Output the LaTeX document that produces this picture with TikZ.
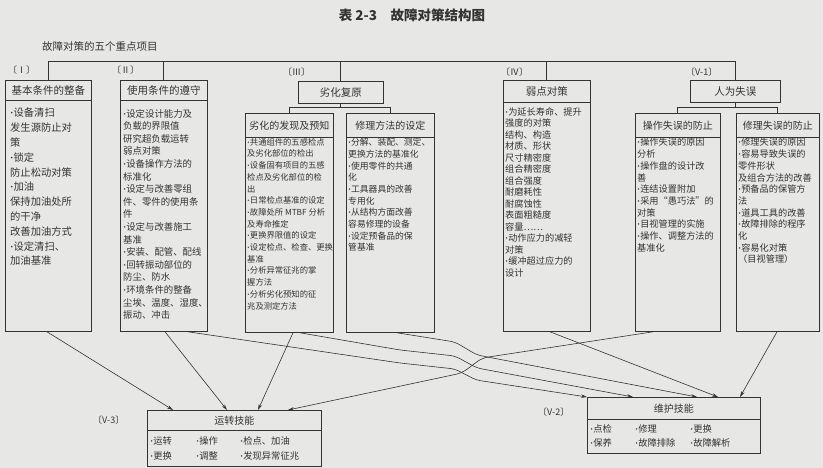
\documentclass[tikz,border=0pt]{standalone}
\usepackage{fontspec}
\setmainfont{Noto Sans CJK SC}
\newfontfamily\latinf{Liberation Serif}
\usetikzlibrary{arrows.meta}
\definecolor{paper}{HTML}{E7E7E5}
\definecolor{ink}{HTML}{333333}
\newcommand{\fs}[2]{\fontsize{#1}{#2}\selectfont}
\newcommand{\dt}{{\latinf\bfseries ·}}
\begin{document}
\begin{tikzpicture}[x=1pt,y=-1pt,
  frame/.style={draw=ink, line width=0.8pt, anchor=north west, inner sep=0pt, text=ink},
  body/.style={anchor=north west, align=left, inner sep=0pt, text=ink},
  lbl/.style={anchor=west, inner sep=0pt, text=ink, font=\fs{9}{10}},
  conn/.style={draw=ink, line width=0.6pt, -{Stealth[length=6pt,width=3.5pt]}},
  tree/.style={draw=ink, line width=0.9pt},
]
\fill[paper] (0,0) rectangle (823,468);
\useasboundingbox (0,0) rectangle (823,468);

% titles
\node[text=ink, font=\bfseries\fs{13.5}{15}] (title) at (412,15) {表 2-3\quad 故障对策结构图};
\node[anchor=west, inner sep=0pt, text=ink, font=\fs{10.5}{12}] (subt) at (42,46) {故障对策的五个重点项目};

% level-1 headers
\node[frame, minimum width=86pt, minimum height=20pt, font=\fs{10.5}{12}] (h1) at (5,80) {基本条件的整备};
\node[frame, minimum width=87pt, minimum height=20pt, font=\fs{10.5}{12}] (h2) at (120,80) {使用条件的遵守};
\node[frame, minimum width=85pt, minimum height=22pt, font=\fs{10.5}{12}] (h3) at (298,81) {劣化复原};
\node[frame, minimum width=87pt, minimum height=22pt, font=\fs{10.5}{12}] (h4) at (503,80) {弱点对策};
\node[frame, minimum width=90pt, minimum height=22pt, font=\fs{10.5}{12}] (h5) at (690,80) {人为失误};

% level-1 bodies
\node[frame, minimum width=86pt, minimum height=231pt] (b1) at (5,100) {};
\node[frame, minimum width=87pt, minimum height=231pt] (b2) at (120,100) {};
\node[frame, minimum width=87pt, minimum height=229pt] (b4) at (503,102) {};

% level-2 headers and bodies
\node[frame, minimum width=88pt, minimum height=24pt, font=\fs{10}{12}] (h3a) at (245,113) {劣化的发现及预知};
\node[frame, minimum width=88pt, minimum height=24pt, font=\fs{10}{12}] (h3b) at (346,113) {修理方法的设定};
\node[frame, minimum width=88pt, minimum height=195pt] (b3a) at (245,137) {};
\node[frame, minimum width=88pt, minimum height=195pt] (b3b) at (346,137) {};
\node[frame, minimum width=85pt, minimum height=24pt, font=\fs{10}{12}] (h5a) at (635,113) {操作失误的防止};
\node[frame, minimum width=83pt, minimum height=24pt, font=\fs{10}{12}] (h5b) at (736,113) {修理失误的防止};
\node[frame, minimum width=85pt, minimum height=194pt] (b5a) at (635,137) {};
\node[frame, minimum width=83pt, minimum height=194pt] (b5b) at (736,137) {};

% bottom boxes
\node[frame, minimum width=174pt, minimum height=20pt, font=\fs{10}{12}] (h8) at (147,410) {运转技能};
\node[frame, minimum width=174pt, minimum height=36pt] (b8) at (147,430) {};
\node[frame, minimum width=173pt, minimum height=22pt, font=\fs{10}{12}] (h7) at (587,397) {维护技能};
\node[frame, minimum width=173pt, minimum height=34pt] (b7) at (587,419) {};

% labels
\node[lbl] (l1) at (8,70) {〔Ⅰ〕};
\node[lbl] (l2) at (112,70) {〔Ⅱ〕};
\node[lbl] (l3) at (283,72) {〔Ⅲ〕};
\node[lbl] (l4) at (501,72) {〔Ⅳ〕};
\node[lbl] (l5) at (686,72) {〔V-1〕};
\node[lbl] (l8) at (93,420) {〔V-3〕};
\node[lbl] (l7) at (538,412) {〔V-2〕};

% body texts
\node[body, font=\fs{10.3}{14.8}] (t1) at (10,108) {\dt 设备清扫\\发生源防止对\\策\\\dt 锁定\\防止松动对策\\\dt 加油\\保持加油处所\\的干净\\改善加油方式\\\dt 设定清扫、\\加油基准};
\node[body, font=\fs{9.4}{12.6}] (t2) at (123,109) {\dt 设定设计能力及\\负载的界限值\\研究超负载运转\\弱点对策\\\dt 设备操作方法的\\标准化\\\dt 设定与改善零组\\件、零件的使用条\\件\\\dt 设定与改善施工\\基准\\\dt 安装、配管、配线\\\dt 回转振动部位的\\防尘、防水\\\dt 环境条件的整备\\尘埃、温度、湿度、\\振动、冲击};
\node[body, font=\fs{8.3}{11.7}] (t3a) at (247,138) {\dt 共通组件的五感检点\\及劣化部位的检出\\\dt 设备固有项目的五感\\检点及劣化部位的检\\出\\\dt 日常检点基准的设定\\\dt 故障处所 MTBF 分析\\及寿命推定\\\dt 更换界限值的设定\\\dt 设定检点、检查、更换\\基准\\\dt 分析异常征兆的掌\\握方法\\\dt 分析劣化预知的征\\兆及测定方法};
\node[body, font=\fs{8.8}{11.7}] (t3b) at (348,138) {\dt 分解、装配、测定、\\更换方法的基准化\\\dt 使用零件的共通\\化\\\dt 工具器具的改善\\专用化\\\dt 从结构方面改善\\容易修理的设备\\\dt 设定预备品的保\\管基准};
\node[body, font=\fs{9.2}{11.5}] (t4) at (505,107) {\dt 为延长寿命、提升\\强度的对策\\结构、构造\\材质、形状\\尺寸精密度\\组合精密度\\组合强度\\耐磨耗性\\耐腐蚀性\\表面粗糙度\\容量……\\\dt 动作应力的减轻\\对策\\\dt 缓冲超过应力的\\设计};
\node[body, font=\fs{9.2}{11.7}] (t5a) at (637,138) {\dt 操作失误的原因\\分析\\\dt 操作盘的设计改\\善\\\dt 连结设置附加\\\dt 采用“愚巧法”的\\对策\\\dt 目视管理的实施\\\dt 操作、调整方法的\\基准化};
\node[body, font=\fs{9.2}{11.7}] (t5b) at (738,138) {\dt 修理失误的原因\\\dt 容易导致失误的\\零件形状\\及组合方法的改善\\\dt 预备品的保管方\\法\\\dt 道具工具的改善\\\dt 故障排除的程序\\化\\\dt 容易化对策\\（目视管理）};
\node[body, font=\fs{9.3}{15}] (t8) at (150,434) {\begin{tabular}{@{}p{46pt}@{}p{44pt}@{}l@{}}\dt 运转&\dt 操作&\dt 检点、加油\\ \dt 更换&\dt 调整&\dt 发现异常征兆\end{tabular}};
\node[body, font=\fs{9.3}{14}] (t7) at (590,422) {\begin{tabular}{@{}p{45pt}@{}p{55pt}@{}l@{}}\dt 点检&\dt 修理&\dt 更换\\ \dt 保养&\dt 故障排除&\dt 故障解析\end{tabular}};

% tree lines
\coordinate (top) at (0,61);
\draw[tree] (h1.north |- top) -- (h5.north |- top);
\foreach \n in {h1,h2,h3,h4,h5} \draw[tree] (\n.north) -- (\n.north |- top);
\coordinate (j3) at (0,107);
\draw[tree] (h3.south) -- (h3.south |- j3);
\draw[tree] (h3a.north |- j3) -- (h3b.north |- j3);
\draw[tree] (h3a.north |- j3) -- (h3a.north);
\draw[tree] (h3b.north |- j3) -- (h3b.north);
\coordinate (j5) at (0,107);
\draw[tree] (h5.south) -- (h5.south |- j5);
\draw[tree] (h5a.north |- j5) -- (h5b.north |- j5);
\draw[tree] (h5a.north |- j5) -- (h5a.north);
\draw[tree] (h5b.north |- j5) -- (h5b.north);

% connector waypoints
\coordinate (w1) at (482,358);
\coordinate (w2) at (462,373);
\coordinate (a1) at (400,363);
\coordinate (a2) at (455,369);
\coordinate (a3) at (476,380);
\coordinate (c1) at (400,350);
\coordinate (c2) at (455,356);
\coordinate (c3) at (477,368);
\coordinate (d1) at (455,342);
\coordinate (d2) at (477,355);

% to V-3
\draw[conn] ([xshift=42pt]b1.south west) -- ([xshift=26pt]h8.north west);
\draw[conn] ([xshift=45pt]b2.south west) -- ([xshift=80pt]h8.north west);
\draw[conn] ([xshift=48pt]b3a.south west) -- ([xshift=111pt]h8.north west);
\draw[conn, rounded corners=6pt] ([xshift=18pt]b5a.south west) -- (w1) -- (w2) -- ([xshift=141pt]h8.north west);
% to V-2
\draw[conn, rounded corners=5pt] ([xshift=68pt]b2.south west) -- (a1) -- (a2) -- (a3) -- (h7.north west);
\draw[conn, rounded corners=5pt] ([xshift=55pt]b3a.south west) -- (c1) -- (c2) -- (c3) -- ([xshift=46pt]h7.north west);
\draw[conn, rounded corners=5pt] ([xshift=51pt]b3b.south west) -- (d1) -- (d2) -- ([xshift=110pt]h7.north west);
\draw[conn] ([xshift=47pt]b4.south west) -- ([xshift=131pt]h7.north west);
\draw[conn] ([xshift=41pt]b5b.south west) -- ([xshift=153pt]h7.north west);
\end{tikzpicture}
\end{document}
